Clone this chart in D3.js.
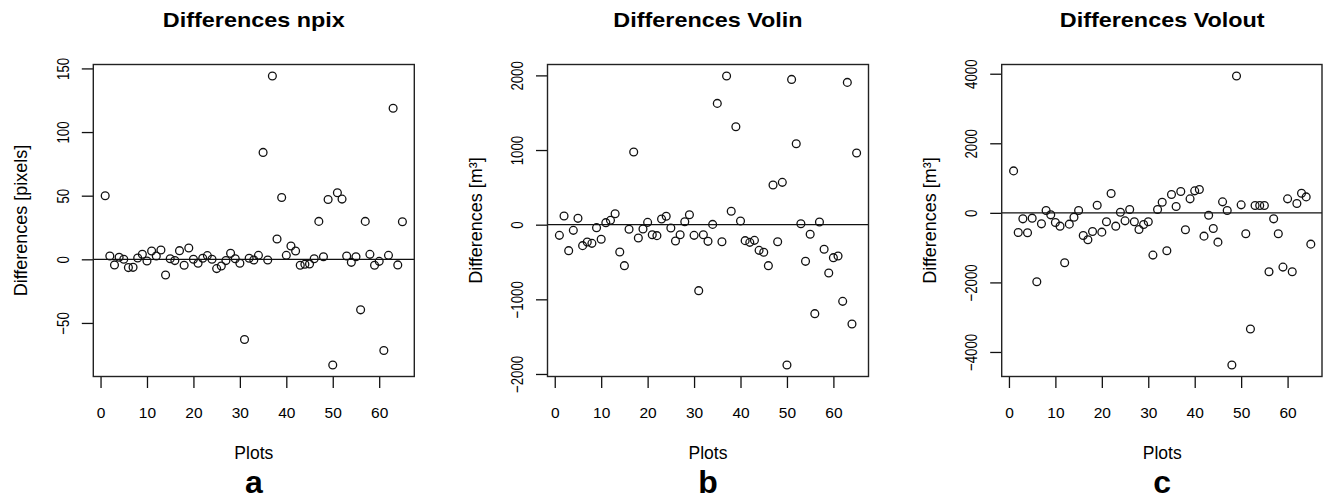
<!DOCTYPE html>
<html>
<head>
<meta charset="utf-8">
<script src="https://cdn.jsdelivr.net/npm/d3@7"></script>
<style>
  body { margin: 0; background: #fff; }
  text { font-family: "Liberation Sans", Arial, Helvetica, sans-serif; fill: #000; }
</style>
</head>
<body>
<div id="viz_container"></div>
<script>
// differences per plot (plots 1..65)
const npixDiff = [50, 2.6, -4.4, 1.6, 0, -6.5, -6.3, 1, 4, -1.3,
  6.5, 2.6, 7.3, -12.3, 0.5, -1, 6.8, -4.7, 8.9, 0,
  -3.1, 0.8, 2.9, 0, -7.3, -5.2, -1, 4.7, 0.5, -3.1,
  -63, 0.8, -0.5, 3.1, 84, -0.5, 144, 16, 48.6, 3.1,
  10.5, 6.5, -4.7, -3.9, -3.7, 0.5, 29.8, 2, 47, -83,
  52.3, 47.3, 2.6, -2.4, 2, -39.7, 29.8, 3.9, -4.7, -1.6,
  -71.7, 3.1, 118.7, -4.4, 29.5];

const volinDiff = [-143, 116, -348, -76, 85, -281, -232, -250, -40, -196,
  27, 58, 147, -366, -549, -62, 973, -179, -58, 31,
  -134, -147, 76, 112, -45, -219, -134, 40, 134, -143,
  -884, -134, -223, 4, 1625, -228, 1991, 179, 1312, 49,
  -214, -237, -210, -344, -370, -549, 531, -228, 567, -1879,
  1946, 1085, 13, -491, -129, -1192, 36, -330, -647, -442,
  -420, -1027, 1906, -1330, 960];

const voloutDiff = [1206, -565, -172, -574, -153, -1981, -316, 67, -57, -278,
  -383, -1436, -325, -124, 67, -651, -775, -536, 220, -555,
  -258, 555, -383, 19, -230, 96, -258, -479, -335, -258,
  -1215, 96, 306, -1091, 526, 182, 612, -488, 402, 632,
  670, -670, -67, -450, -842, 316, 67, -4373, 3933, 230,
  -603, -3340, 211, 211, 211, -1694, -172, -603, -1560, 402,
  -1694, 268, 565, 459, -900];

// tick labels
const xTicks = [0, 10, 20, 30, 40, 50, 60];
const npixTicks = [-50, 0, 50, 100, 150];
const volinTicks = [-2000, -1000, 0, 1000, 2000];
const voloutTicks = [-4000, -2000, 0, 2000, 4000];

// texts
const titles = ["Differences npix", "Differences Volin", "Differences Volout"];
const yLabels = ["Differences [pixels]", "Differences [m\u00B3]", "Differences [m\u00B3]"];
const xLabel = "Plots";
const letters = ["a", "b", "c"];

const width = 1323, height = 499;
const svg = d3.select("#viz_container")
  .append("svg")
  .attr("width", width)
  .attr("height", height);

const panels = [
  {values: npixDiff, ticks: npixTicks},
  {values: volinDiff, ticks: volinTicks},
  {values: voloutDiff, ticks: voloutTicks}
];

// panel box geometry
const boxW = 321, boxTop = 64.5, boxBottom = 376.5;
const panelStep = 454.2, firstLeft = 93.3;

// R style range padding (4% each side)
const padExtent = (arr) => {
  const [lo, hi] = d3.extent(arr);
  const p = (hi - lo) * 0.04;
  return [lo - p, hi + p];
};

panels.forEach((p, k) => {
  const left = firstLeft + k * panelStep;
  const right = Math.min(left + boxW, width - 1);
  const cx = left + boxW / 2;
  const g = svg.append("g");

  const x = d3.scaleLinear()
    .domain(padExtent([1, p.values.length]))
    .range([left, left + boxW]);
  const y = d3.scaleLinear()
    .domain(padExtent(p.values))
    .range([boxBottom, boxTop]);

  // x axis
  const xa = g.append("g")
    .attr("transform", `translate(0,${boxBottom})`)
    .call(d3.axisBottom(x).tickValues(xTicks).tickSize(11.5).tickSizeOuter(0))
    .attr("font-size", null)
    .attr("font-family", null)
    .attr("color", "#111");
  xa.select(".domain").remove();
  xa.selectAll(".tick line").attr("stroke-width", 1.3);
  xa.selectAll(".tick text")
    .attr("y", 41)
    .attr("dy", null)
    .style("font-size", "15.5px");

  // y axis
  const ya = g.append("g")
    .attr("transform", `translate(${left},0)`)
    .call(d3.axisLeft(y).tickValues(p.ticks).tickSize(11.5).tickSizeOuter(0).tickFormat(d3.format("d")))
    .attr("font-size", null)
    .attr("font-family", null)
    .attr("color", "#111");
  ya.select(".domain").remove();
  ya.selectAll(".tick line").attr("stroke-width", 1.3);
  ya.selectAll(".tick text")
    .attr("x", null)
    .attr("dy", null)
    .attr("text-anchor", "middle")
    .attr("transform", "translate(-24.5,0) rotate(-90) scale(0.78,1)")
    .style("font-size", "17px")
    .text(d => d < 0 ? "\u2212" + Math.abs(d) : d);

  // zero line
  g.append("line")
    .attr("x1", left)
    .attr("x2", right)
    .attr("y1", y(0))
    .attr("y2", y(0))
    .attr("stroke", "#111")
    .attr("stroke-width", 1.3);

  // points
  g.append("g")
    .selectAll("circle")
    .data(p.values)
    .join("circle")
    .attr("cx", (d, i) => x(i + 1))
    .attr("cy", d => y(d))
    .attr("r", 3.9)
    .attr("fill", "none")
    .attr("stroke", "#111")
    .attr("stroke-width", 1.3);

  // box
  g.append("rect")
    .attr("x", left)
    .attr("y", boxTop)
    .attr("width", right - left)
    .attr("height", boxBottom - boxTop)
    .attr("fill", "none")
    .attr("stroke", "#222")
    .attr("stroke-width", 1.4);

  // title
  g.append("text")
    .attr("transform", `translate(${cx},27.3) scale(1.17,1)`)
    .attr("text-anchor", "middle")
    .style("font-weight", "bold")
    .style("font-size", "20px")
    .text(titles[k]);

  // y label
  g.append("text")
    .attr("transform", `translate(${left - 66},${(boxTop + boxBottom) / 2}) rotate(-90)`)
    .attr("text-anchor", "middle")
    .style("font-size", "18px")
    .text(yLabels[k]);

  // x label
  g.append("text")
    .attr("x", cx)
    .attr("y", 459.3)
    .attr("text-anchor", "middle")
    .style("font-size", "17.5px")
    .text(xLabel);

  // panel letter
  g.append("text")
    .attr("x", cx)
    .attr("y", 493)
    .attr("text-anchor", "middle")
    .style("font-weight", "bold")
    .style("font-size", "32px")
    .text(letters[k]);
});
</script>
</body>
</html>
